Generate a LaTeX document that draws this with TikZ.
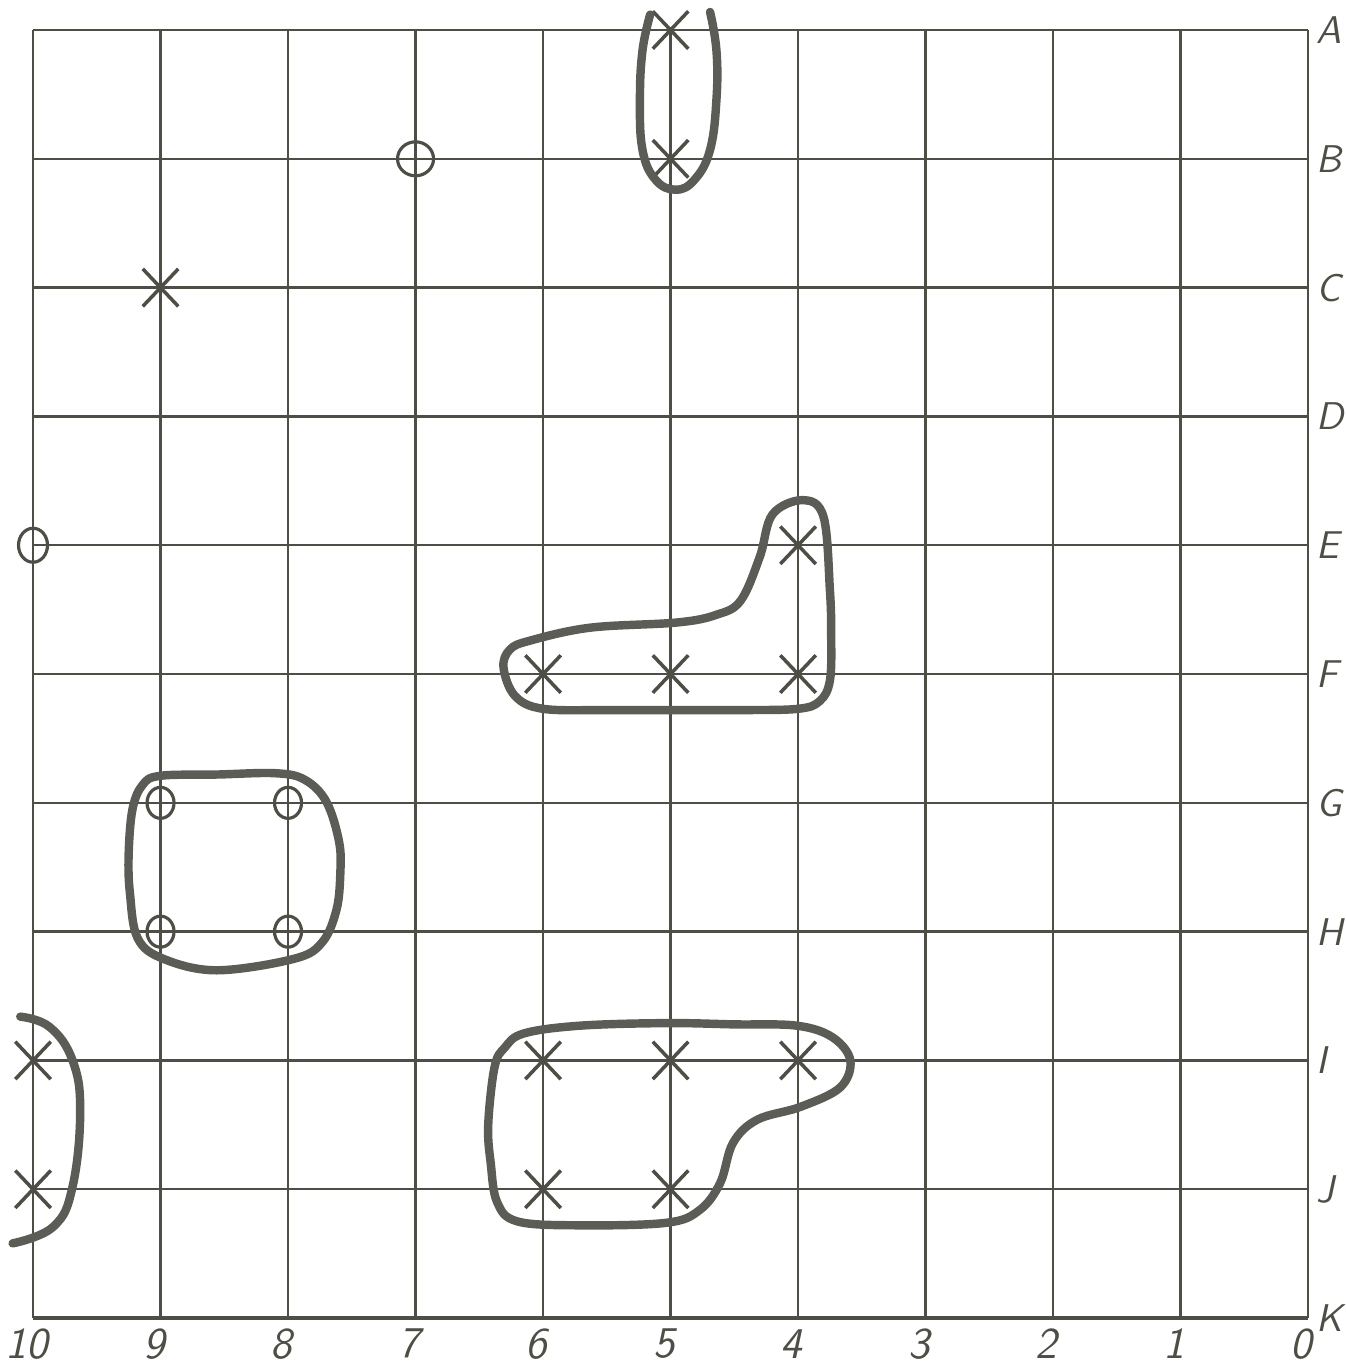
\documentclass[tikz,border=0pt]{standalone}
\usepackage{fontspec}
\usepackage{tikz}
\usetikzlibrary{shapes.geometric,shapes.misc}
\definecolor{lapiz}{RGB}{78,78,70}
\definecolor{grafito}{RGB}{92,92,86}
\tikzset{
  cruz/.style={
    cross out,
    draw=lapiz,
    line width=1pt,
    minimum width=.32cm,
    minimum height=.34cm,
    inner sep=0pt
  },
  aro/.style={
    ellipse,
    draw=lapiz,
    line width=.9pt,
    minimum width=.27cm,
    minimum height=.31cm,
    inner sep=0pt
  },
  trazo/.style={
    draw=grafito,
    line width=2.4pt,
    line cap=round,
    line join=round
  },
  rotulo/.style={
    text=lapiz,
    font=\sffamily\slshape\fontsize{11}{13}\selectfont,
    inner sep=0pt
  }
}
\begin{document}
\begin{tikzpicture}[x=1.275cm,y=1.288cm]
\useasboundingbox (-0.259,0.233) rectangle (10.290,-10.349);
% cuadricula
\foreach \i in {0,...,10} {
  \draw[lapiz,line width=.7pt] (\i,0) -- (\i,-10);
  \draw[lapiz,line width=.7pt] (0,-\i) -- (10,-\i);
}
\draw[lapiz,line width=1.1pt] (0,-10) -- (10,-10);
% rotulos
\foreach \l [count=\r from 0] in {A,B,C,D,E,F,G,H,I,J,K}
  \node[rotulo,anchor=west] (f\l) at (10.06,-\r) {\l};
\foreach \n in {10,9,8,7,6,5,4,3,2,1,0}
  \node[rotulo,font=\sffamily\slshape\fontsize{12.5}{14}\selectfont]
    (c\n) at ({10-\n-0.05},-10.2) {\n};
% marcas
\node[cruz] (a5) at (5,0) {};
\node[cruz] (b5) at (5,-1) {};
\node[aro,minimum width=.36cm,minimum height=.34cm] (b7) at (3,-1) {};
\node[cruz] (c9) at (1,-2) {};
\node[aro,minimum width=.29cm,minimum height=.34cm] (e10) at (0,-4) {};
\node[cruz] (e4) at (6,-4) {};
\node[cruz] (f6) at (4,-5) {};
\node[cruz] (f5) at (5,-5) {};
\node[cruz] (f4) at (6,-5) {};
\node[aro] (g9) at (1,-6) {};
\node[aro] (g8) at (2,-6) {};
\node[aro] (h9) at (1,-7) {};
\node[aro] (h8) at (2,-7) {};
\node[cruz] (i10) at (0,-8) {};
\node[cruz] (j10) at (0,-9) {};
\node[cruz] (i6) at (4,-8) {};
\node[cruz] (i5) at (5,-8) {};
\node[cruz] (i4) at (6,-8) {};
\node[cruz] (j6) at (4,-9) {};
\node[cruz] (j5) at (5,-9) {};
% contornos
\draw[trazo] plot[smooth,tension=.7] coordinates {(4.84,0.12) (4.78,-0.16)
  (4.76,-0.54) (4.78,-0.93) (4.88,-1.16) (5.04,-1.24) (5.19,-1.16)
  (5.31,-0.93) (5.36,-0.54) (5.36,-0.16) (5.31,0.14)};
\draw[trazo] plot[smooth cycle,tension=.6] coordinates {(3.69,-4.95)
  (3.78,-5.17) (4.00,-5.27) (4.50,-5.28) (5.00,-5.28) (5.55,-5.28)
  (6.00,-5.27) (6.17,-5.21) (6.25,-5.05) (6.26,-4.70) (6.25,-4.35)
  (6.20,-3.78) (6.04,-3.65) (5.80,-3.76) (5.70,-4.09) (5.55,-4.43)
  (5.36,-4.54) (5.05,-4.60) (4.37,-4.64) (3.90,-4.74) (3.74,-4.81)};
\draw[trazo] plot[smooth cycle,tension=.6] coordinates {(1.00,-5.79)
  (1.45,-5.78) (1.90,-5.77) (2.13,-5.82) (2.30,-5.99) (2.40,-6.30)
  (2.41,-6.55) (2.38,-6.83) (2.27,-7.08) (2.05,-7.21) (1.44,-7.30)
  (1.02,-7.21) (0.82,-7.05) (0.76,-6.70) (0.75,-6.40) (0.78,-6.05)
  (0.86,-5.86)};
\draw[trazo] plot[smooth,tension=.7] coordinates {(-0.10,-7.66)
  (0.13,-7.74) (0.31,-8.00) (0.37,-8.39) (0.31,-8.98) (0.16,-9.29)
  (-0.16,-9.42)};
\draw[trazo] plot[smooth cycle,tension=.6] coordinates {(3.85,-7.79)
  (4.29,-7.73) (4.97,-7.71) (5.50,-7.72) (5.99,-7.73) (6.27,-7.82)
  (6.41,-8.00) (6.33,-8.21) (6.02,-8.36) (5.68,-8.46) (5.49,-8.64)
  (5.39,-8.95) (5.23,-9.16) (4.97,-9.26) (4.29,-9.28) (3.80,-9.25)
  (3.64,-9.10) (3.59,-8.80) (3.57,-8.50) (3.62,-8.05) (3.70,-7.90)};
\end{tikzpicture}
\end{document}
